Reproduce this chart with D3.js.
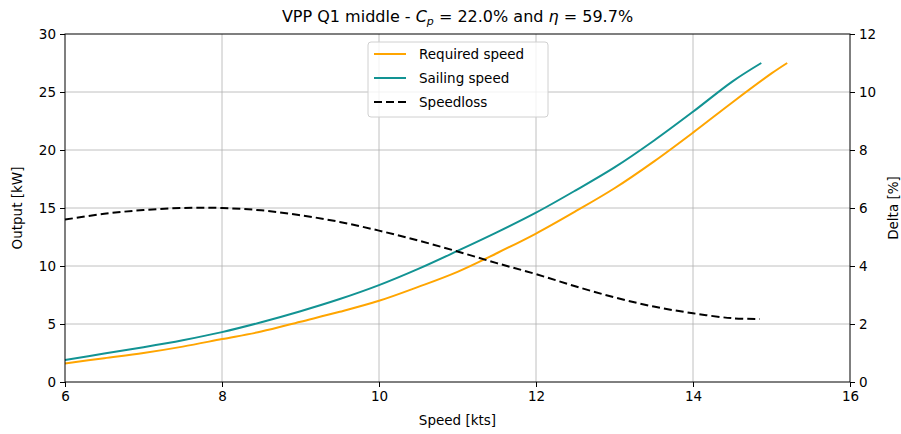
<!DOCTYPE html>
<html>
<head>
<meta charset="utf-8">
<script src="https://cdn.jsdelivr.net/npm/d3@7"></script>
<style>
  body { margin: 0; background: #fff; }
  svg { font-family: "DejaVu Sans", sans-serif; }
</style>
</head>
<body>
<svg id="chart"></svg>
<script>
// speed [kts] vs required power [kW]
const reqSpeed = [6.0, 6.5, 7.0, 7.5, 8.0, 8.5, 9.0, 9.5, 10.0, 10.5, 11.0, 11.5, 12.0, 12.5, 13.0, 13.5, 14.0, 14.5, 15.0, 15.2];
const reqPower = [1.6, 2.05, 2.5, 3.05, 3.7, 4.35, 5.2, 6.05, 7.0, 8.2, 9.5, 11.1, 12.8, 14.7, 16.7, 19.0, 21.5, 24.1, 26.6, 27.5];
// speed [kts] vs sailing power [kW]
const sailSpeed = [6.0, 6.5, 7.0, 7.5, 8.0, 8.5, 9.0, 9.5, 10.0, 10.5, 11.0, 11.5, 12.0, 12.5, 13.0, 13.5, 14.0, 14.5, 14.87];
const sailPower = [1.9, 2.45, 3.0, 3.6, 4.3, 5.15, 6.1, 7.15, 8.35, 9.75, 11.3, 12.9, 14.6, 16.5, 18.5, 20.8, 23.3, 25.9, 27.5];
// speedloss delta [%]
const lossSpeed = [6.0, 6.5, 7.0, 7.5, 8.0, 8.5, 9.0, 9.5, 10.0, 10.5, 11.0, 11.5, 12.0, 12.5, 13.0, 13.5, 14.0, 14.5, 14.85];
const lossDelta = [5.6, 5.8, 5.93, 6.0, 6.0, 5.92, 5.75, 5.52, 5.22, 4.88, 4.5, 4.1, 3.72, 3.3, 2.92, 2.6, 2.37, 2.2, 2.17];

const xTicks = [6, 8, 10, 12, 14, 16];
const yTicks = [0, 5, 10, 15, 20, 25, 30];
const y2Ticks = [0, 2, 4, 6, 8, 10, 12];

const W = 901, H = 434;
const m = {top: 34, right: 51, bottom: 52, left: 65};

const svg = d3.select("#chart").attr("width", W).attr("height", H);

const x = d3.scaleLinear().domain([6, 16]).range([m.left, W - m.right]);
const y = d3.scaleLinear().domain([0, 30]).range([H - m.bottom, m.top]);
const y2 = d3.scaleLinear().domain([0, 12]).range([H - m.bottom, m.top]);

// grid
svg.append("g").selectAll("line").data(xTicks.slice(1, -1)).join("line")
    .attr("x1", d => x(d)).attr("x2", d => x(d))
    .attr("y1", m.top).attr("y2", H - m.bottom)
    .attr("stroke", "#b0b0b0").attr("stroke-width", 0.8);
svg.append("g").selectAll("line").data(yTicks.slice(1, -1)).join("line")
    .attr("x1", m.left).attr("x2", W - m.right)
    .attr("y1", d => y(d)).attr("y2", d => y(d))
    .attr("stroke", "#b0b0b0").attr("stroke-width", 0.8);

const line = d3.line().x(d => x(d[0])).y(d => d[1]).curve(d3.curveCatmullRom);

svg.append("path")
    .attr("d", line(reqSpeed.map((s, i) => [s, y(reqPower[i])])))
    .attr("fill", "none").attr("stroke", "#ffa500").attr("stroke-width", 2);
svg.append("path")
    .attr("d", line(sailSpeed.map((s, i) => [s, y(sailPower[i])])))
    .attr("fill", "none").attr("stroke", "#129393").attr("stroke-width", 2);
svg.append("path")
    .attr("d", line(lossSpeed.map((s, i) => [s, y2(lossDelta[i])])))
    .attr("fill", "none").attr("stroke", "#000").attr("stroke-width", 2)
    .attr("stroke-dasharray", "8,4");

// axes
const fs = "13.5px";
const gx = svg.append("g").attr("transform", `translate(0,${H - m.bottom})`)
    .call(d3.axisBottom(x).tickValues(xTicks).tickSize(5).tickPadding(4).tickFormat(d3.format("d")));
const gy = svg.append("g").attr("transform", `translate(${m.left},0)`)
    .call(d3.axisLeft(y).tickValues(yTicks).tickSize(5).tickPadding(4).tickFormat(d3.format("d")));
const gy2 = svg.append("g").attr("transform", `translate(${W - m.right},0)`)
    .call(d3.axisRight(y2).tickValues(y2Ticks).tickSize(5).tickPadding(4).tickFormat(d3.format("d")));
[gx, gy, gy2].forEach(g => {
    g.select(".domain").remove();
    g.selectAll("text").attr("font-size", fs).attr("fill", "#000").attr("font-family", "DejaVu Sans");
    g.selectAll("line").attr("stroke", "#000");
});

// frame
svg.append("rect")
    .attr("x", m.left).attr("y", m.top)
    .attr("width", W - m.left - m.right).attr("height", H - m.top - m.bottom)
    .attr("fill", "none").attr("stroke", "#000").attr("stroke-width", 1);

// labels
svg.append("text").attr("x", x(11)).attr("y", 425).attr("text-anchor", "middle")
    .attr("font-size", fs).text("Speed [kts]");
svg.append("text").attr("transform", `translate(22,${y(15)}) rotate(-90)`)
    .attr("text-anchor", "middle").attr("font-size", fs).text("Output [kW]");
svg.append("text").attr("transform", `translate(898,${y(15)}) rotate(-90)`)
    .attr("text-anchor", "middle").attr("font-size", fs).text("Delta [%]");

const title = svg.append("text").attr("x", x(11)).attr("y", 22).attr("text-anchor", "middle")
    .attr("font-size", "16px");
title.append("tspan").text("VPP Q1 middle - ");
title.append("tspan").attr("font-style", "italic").text("C");
title.append("tspan").attr("font-style", "italic").attr("font-size", "11px").attr("dy", 3).text("p");
title.append("tspan").attr("dy", -3).text(" = 22.0% and ");
title.append("tspan").attr("font-style", "italic").text("η");
title.append("tspan").text(" = 59.7%");

// legend
const legend = [
    {label: "Required speed", color: "#ffa500", dash: null},
    {label: "Sailing speed", color: "#129393", dash: null},
    {label: "Speedloss", color: "#000", dash: "8,4"}
];
const lg = svg.append("g").attr("transform", "translate(368,42)");
lg.append("rect").attr("width", 180).attr("height", 75).attr("rx", 3)
    .attr("fill", "#fff").attr("fill-opacity", 0.8).attr("stroke", "#d0d0d0");
legend.forEach((d, i) => {
    const yy = 12 + i * 24;
    lg.append("line").attr("x1", 6).attr("x2", 38).attr("y1", yy).attr("y2", yy)
        .attr("stroke", d.color).attr("stroke-width", 2).attr("stroke-dasharray", d.dash);
    lg.append("text").attr("x", 51).attr("y", yy).attr("dy", "0.35em")
        .attr("font-size", fs).text(d.label);
});
</script>
</body>
</html>
